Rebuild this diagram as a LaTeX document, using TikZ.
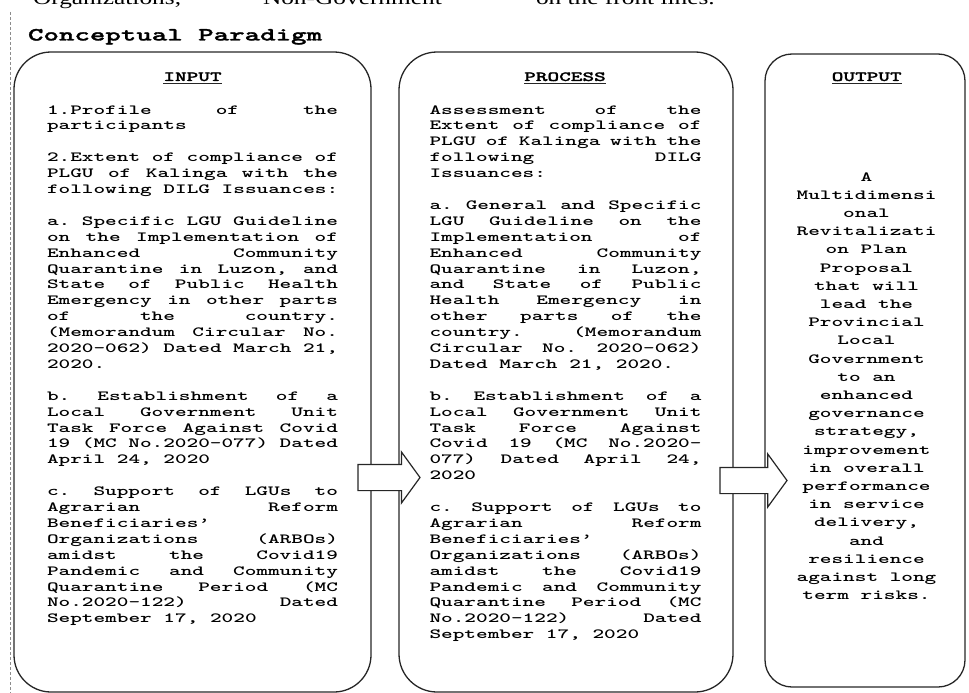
\documentclass[tikz,border=0pt]{standalone}
\usepackage{fontspec}
\usetikzlibrary{shapes.arrows}
\newfontfamily\bodyfont{lmmonolt10-bold.otf}[FakeStretch=1.585]
\newfontfamily\heavyfont{lmmonolt10-bold.otf}[FakeStretch=1.585,FakeBold=1.5]
\newfontfamily\topfont{Liberation Serif}[FakeStretch=1.3]
\newcommand\J[1]{\hbox to\hsize{#1}}
\newcommand\Lf[1]{\hbox{#1}}
\newcommand\Ebl{\hbox{}}
\newcommand\Cc[1]{\hbox to\hsize{\hskip 0pt plus 1fill\relax #1\hskip 0pt plus 1fill\relax}}
\newcommand\bodysetup{\bodyfont\fontsize{14pt}{15.9pt}\selectfont\frenchspacing\spaceskip=\fontdimen2\font plus 1fil minus .25\fontdimen2\font\relax}
\newcommand\outsetup{\bodyfont\fontsize{14pt}{18.2pt}\selectfont\frenchspacing}
\begin{document}
\begin{tikzpicture}[x=1pt,y=-1pt,
  box/.style={draw=black!85, line width=1.3pt, inner sep=0pt, outer sep=0pt},
  txt/.style={inner sep=0pt, outer sep=0pt},
  hdr/.style={inner sep=0pt, outer sep=0pt, anchor=base, font=\heavyfont\fontsize{14pt}{16pt}\selectfont},
  uline/.style={line width=1.1pt, draw=black!85},
  blockarrow/.style={single arrow, draw=black!85, fill=white, line width=1.2pt,
    single arrow head indent=0pt, anchor=tail, outer sep=0pt},
  dashline/.style={draw=black!45, line width=0.8pt, dash pattern=on 3pt off 2pt}]
\useasboundingbox (0,0) rectangle (969,693);
\clip (0,0) rectangle (969,693);
% cut-off text of the page above
\node[txt, anchor=base west, font=\topfont\fontsize{19.5pt}{22pt}\selectfont] (top1) at (33,5) {Organizations,};
\node[txt, anchor=base west, font=\topfont\fontsize{19.5pt}{22pt}\selectfont] (top2) at (263,5) {Non-Government};
\node[txt, anchor=base west, font=\topfont\fontsize{19.5pt}{22pt}\selectfont] (top3) at (536,5) {on the front lines.};
% dashed margin line
\coordinate (dtop) at (10,12);
\coordinate (dbot) at (10,693);
\draw[dashline] (dtop) -- (dbot);
% title
\node[txt, anchor=base west, font=\heavyfont\fontsize{18.6pt}{20pt}\selectfont] (title) at (28,40.5) {Conceptual Paradigm};
% boxes
\node[box, rounded corners=37pt, minimum width=357pt, minimum height=640pt] (inbox) at (192.5,372) {};
\node[box, rounded corners=38pt, minimum width=334pt, minimum height=640pt] (procbox) at (566,372) {};
\node[box, rounded corners=27pt, minimum width=200pt, minimum height=633pt] (outbox) at (865,370.5) {};
% headers
\node[hdr] (inhdr) at (192.5,81) {INPUT};
\node[hdr] (prochdr) at (565,81) {PROCESS};
\node[hdr] (outhdr) at (866.7,81) {OUTPUT};
\draw[uline] ([yshift=-2.6pt]inhdr.base west) -- ([yshift=-2.6pt]inhdr.base east);
\draw[uline] ([yshift=-2.6pt]prochdr.base west) -- ([yshift=-2.6pt]prochdr.base east);
\draw[uline] ([yshift=-2.6pt]outhdr.base west) -- ([yshift=-2.6pt]outhdr.base east);
% input text
\node[txt, anchor=base west] (intext) at (47,114) {\vtop{\hsize=291pt \bodysetup
\J{1.Profile of the}
\Lf{participants}
\Ebl
\J{2.Extent of compliance of}
\J{PLGU of Kalinga with the}
\Lf{following DILG Issuances:}
\Ebl
\J{a. Specific LGU Guideline}
\J{on the Implementation of}
\J{Enhanced Community}
\J{Quarantine in Luzon, and}
\J{State of Public Health}
\J{Emergency in other parts}
\J{of the country.}
\J{(Memorandum Circular No.}
\J{2020-062) Dated March 21,}
\Lf{2020.}
\Ebl
\J{b. Establishment of a}
\J{Local Government Unit}
\J{Task Force Against Covid}
\J{19 (MC No.2020-077) Dated}
\Lf{April 24, 2020}
\Ebl
\J{c. Support of LGUs to}
\J{Agrarian Reform}
\Lf{Beneficiaries’}
\J{Organizations (ARBOs)}
\J{amidst the Covid19}
\J{Pandemic and Community}
\J{Quarantine Period (MC}
\J{No.2020-122) Dated}
\Lf{September 17, 2020}
}};
% process text
\node[txt, anchor=base west] (proctext) at (429.5,114) {\vtop{\hsize=272pt \bodysetup
\J{Assessment of the}
\J{Extent of compliance of}
\J{PLGU of Kalinga with the}
\J{following DILG}
\Lf{Issuances:}
\Ebl
\J{a. General and Specific}
\J{LGU Guideline on the}
\J{Implementation of}
\J{Enhanced Community}
\J{Quarantine in Luzon,}
\J{and State of Public}
\J{Health Emergency in}
\J{other parts of the}
\J{country. (Memorandum}
\J{Circular No. 2020-062)}
\Lf{Dated March 21, 2020.}
\Ebl
\J{b. Establishment of a}
\J{Local Government Unit}
\J{Task Force Against}
\J{Covid 19 (MC No.2020-}
\J{077) Dated April 24,}
\Lf{2020}
\Ebl
\J{c. Support of LGUs to}
\J{Agrarian Reform}
\Lf{Beneficiaries’}
\J{Organizations (ARBOs)}
\J{amidst the Covid19}
\J{Pandemic and Community}
\J{Quarantine Period (MC}
\J{No.2020-122) Dated}
\Lf{September 17, 2020}
}};
% output text
\node[txt, anchor=base] (outtext) at (866.5,181) {\vtop{\hsize=190pt \outsetup
\Cc{A}
\Cc{Multidimensi}
\Cc{onal}
\Cc{Revitalizati}
\Cc{on Plan}
\Cc{Proposal}
\Cc{that will}
\Cc{lead the}
\Cc{Provincial}
\Cc{Local}
\Cc{Government}
\Cc{to an}
\Cc{enhanced}
\Cc{governance}
\Cc{strategy,}
\Cc{improvement}
\Cc{in overall}
\Cc{performance}
\Cc{in service}
\Cc{delivery,}
\Cc{and}
\Cc{resilience}
\Cc{against long}
\Cc{term risks.}
}};
% block arrows
\node[blockarrow, inner sep=12.5pt, single arrow head extend=12.5pt, single arrow tip angle=108, minimum height=62pt] (arr1) at (358,477.5) {};
\node[blockarrow, inner sep=12.5pt, single arrow head extend=13.5pt, single arrow tip angle=108, minimum height=67pt] (arr2) at (720,480.5) {};
\end{tikzpicture}
\end{document}
